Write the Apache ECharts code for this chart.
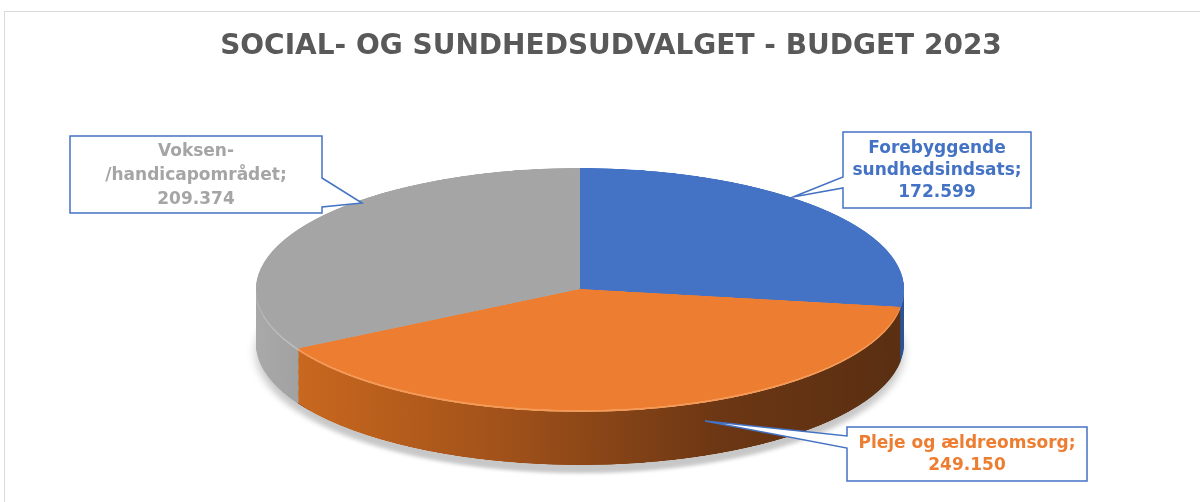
<!DOCTYPE html>
<html>
<head>
<meta charset="utf-8">
<script src="https://cdn.jsdelivr.net/npm/echarts@6/dist/echarts.min.js"></script>
<style>
  html, body { margin: 0; padding: 0; background: #fff; }
  #wrap { position: relative; width: 1200px; height: 502px; overflow: hidden; }
  #pie { position: absolute; left: 0; top: 0; width: 1200px; height: 1400px; transform-origin: 0 0; }
  #main { position: absolute; left: 0; top: 0; width: 1200px; height: 502px; }
</style>
</head>
<body>
<div id="wrap">
  <div id="pie"></div>
  <div id="main"></div>
</div>
<script>
// data
const categories = ['Forebyggende sundhedsindsats', 'Pleje og ældreomsorg', 'Voksen-/handicapområdet']
const labelNames = ['Forebyggende\nsundhedsindsats;', 'Pleje og ældreomsorg;', 'Voksen-\n/handicapområdet;']
const values = [172599, 249150, 209374]
const topColors = ['#4472C4', '#ED7D31', '#A5A5A5']
const rimColors = ['#5a86d4', '#f39a58', '#bdbdbd']
const textColors = ['#4472C4', '#ED7D31', '#A5A5A5']
const titleText = 'SOCIAL- OG SUNDHEDSUDVALGET - BUDGET 2023'

// pie shape (squashed to look tilted)
const cx = 580
const cy = 289
const rx = 324
const ry = 121
const depth = 55
const squash = ry / rx
const layers = 60

document.getElementById('pie').style.transform = 'scaleY(' + squash + ')'

function fmt(v) {
  return String(v).replace(/\B(?=(\d{3})+(?!\d))/g, '.')
}

const wallColors = [
  '#2f5597',
  new echarts.graphic.LinearGradient(0, 0, 1, 0, [
    { offset: 0, color: '#c9681f' },
    { offset: 0.35, color: '#a0511a' },
    { offset: 0.7, color: '#6c3714' },
    { offset: 1, color: '#5a2f12' }
  ]),
  new echarts.graphic.LinearGradient(0, 0, 1, 0, [
    { offset: 0, color: '#a9a9a9' },
    { offset: 0.5, color: '#8e8e8e' },
    { offset: 1, color: '#858585' }
  ])
]

function pieLayer(centerY, colors, extra) {
  return {
    type: 'pie',
    silent: true,
    animation: false,
    startAngle: 90,
    clockwise: true,
    radius: rx,
    center: [cx, centerY],
    label: { show: false },
    labelLine: { show: false },
    emphasis: { disabled: true },
    itemStyle: Object.assign({ borderWidth: 0 }, extra || {}),
    data: values.map((v, i) => ({
      name: categories[i],
      value: v,
      itemStyle: { color: colors[i] }
    }))
  }
}

const series = []
for (let k = layers; k >= 1; k--) {
  const offs = (depth * k / layers) / squash
  const extra = k === layers ? { shadowBlur: 10, shadowColor: 'rgba(0,0,0,0.22)', shadowOffsetY: 22 } : null
  series.push(pieLayer(cy / squash + offs, wallColors, extra))
}
// light rim just under the top face
series.push(pieLayer(cy / squash + 2 / squash, rimColors))
series.push(pieLayer(cy / squash, topColors))

const pieChart = echarts.init(document.getElementById('pie'))
pieChart.setOption({ animation: false, series: series })

// callouts and title
const font = 'bold 17px "DejaVu Sans", sans-serif'
const boxStyle = { fill: '#fff', stroke: '#4472C4', lineWidth: 1.5 }

const callouts = [
  {
    points: [[843, 132], [1031, 132], [1031, 208], [843, 208], [843, 188], [793, 197], [843, 177]],
    tx: 937, ty: 171, lh: 22
  },
  {
    points: [[847, 427], [1087, 427], [1087, 481], [847, 481], [847, 448], [705, 421], [847, 436]],
    tx: 967, ty: 455, lh: 22
  },
  {
    points: [[70, 136], [322, 136], [322, 178], [362, 203], [322, 207], [322, 213], [70, 213]],
    tx: 196, ty: 176, lh: 24
  }
]

const graphics = [
  {
    type: 'rect',
    shape: { x: 4.5, y: 11.5, width: 1300, height: 600 },
    style: { fill: 'none', stroke: '#d9d9d9', lineWidth: 1 },
    silent: true
  }
]
callouts.forEach((c, i) => {
  graphics.push({
    type: 'polygon',
    shape: { points: c.points },
    style: boxStyle,
    silent: true
  })
  graphics.push({
    type: 'text',
    x: c.tx,
    y: c.ty,
    silent: true,
    style: {
      text: labelNames[i] + '\n' + fmt(values[i]),
      font: font,
      fill: textColors[i],
      align: 'center',
      verticalAlign: 'middle',
      lineHeight: c.lh
    }
  })
})

const chart = echarts.init(document.getElementById('main'))
chart.setOption({
  animation: false,
  title: {
    text: titleText,
    left: 606,
    top: 28,
    textAlign: 'center',
    textStyle: {
      fontFamily: 'DejaVu Sans',
      fontWeight: 'bold',
      fontSize: 28,
      color: '#595959'
    }
  },
  graphic: graphics
})
</script>
</body>
</html>
